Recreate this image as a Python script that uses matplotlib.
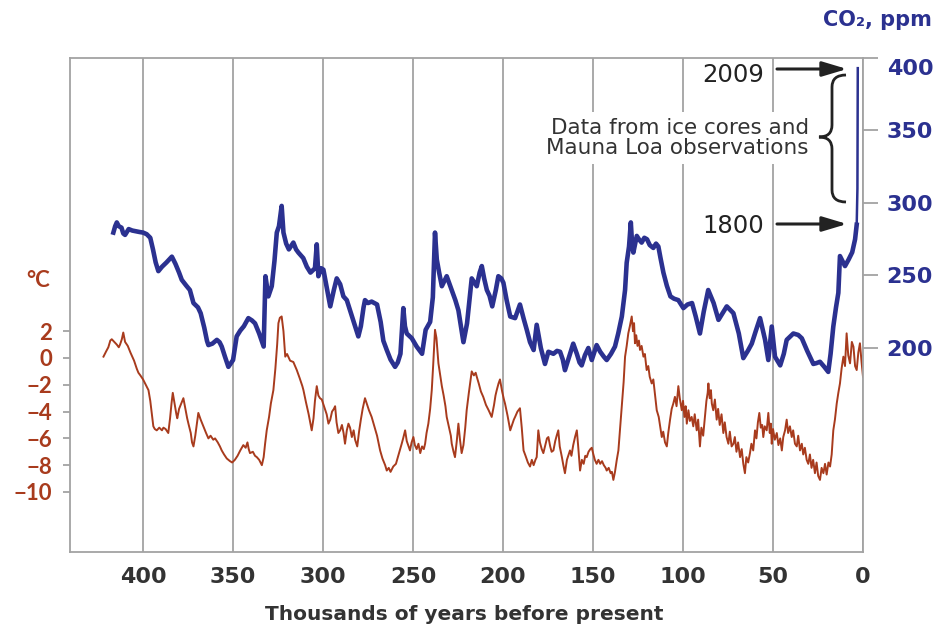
import matplotlib
matplotlib.use("Agg")
import matplotlib.pyplot as plt
from matplotlib.path import Path
from matplotlib.patches import PathPatch, FancyArrowPatch
from matplotlib.transforms import ScaledTranslation

# Vostok-style temperature anomaly (deg C) vs thousands of years before present
temp_kyr = [
    422, 420.5, 419.3, 418.2, 417.4, 416, 414.6, 413.5, 412.8, 411.8, 411, 410, 408.5, 407, 405,
    403.5, 402.6, 401.5, 400, 398.5, 397, 396, 395, 394.3, 393.5, 392.4, 391, 389.5, 388.7, 387.5,
    386, 385, 384.2, 383.5, 382.5, 381.5, 381, 380, 378.5, 377.6, 376.5, 375.5, 374.8, 373.5, 372.8,
    372, 371, 370, 369.3, 368, 366.5, 365, 363.7, 362.5, 361, 360, 358.5, 357.3, 356.3, 355,
    353.5, 351.7, 350.5, 349, 347.5, 346, 344.3, 343, 342, 341.3, 340.6, 339, 337.8, 336.8, 335.5,
    334, 333, 332.2, 331.3, 330, 329, 327.6, 326.5, 325.5, 324.8, 324, 323, 322, 321, 320,
    318.3, 316.5, 314.6, 313, 311.5, 310.9, 309.5, 308, 306.3, 305.3, 304.5, 303.5, 302.6, 301.7, 300.7,
    299.5, 298, 297, 296, 295, 294, 293.3, 292.5, 291.5, 290.5, 289.5, 288.6, 287.8, 286.8, 285.9,
    285, 284, 283, 282.2, 281, 280, 279, 278, 276.7, 275.5, 274.5, 273, 271.5, 270, 268.3,
    267, 265.5, 264.6, 263.5, 262.5, 261, 259.5, 258, 256.3, 255.5, 254.4, 253.5, 252.5, 251.7, 250.8,
    249.8, 249, 248, 247, 246, 245, 244, 243.3, 242.5, 241.5, 240.5, 239.6, 238.8, 237.8, 237,
    235.9, 235, 234, 233, 232, 231.3, 230, 229, 228.5, 227.5, 226.7, 225.7, 224.8, 224, 223,
    222, 221, 220.2, 219, 218, 217.4, 216.2, 215.2, 214.6, 213.5, 212.3, 211, 209.5, 208, 206.3,
    205, 204.2, 203.5, 202.5, 201.7, 200.5, 199.5, 198.9, 197.5, 196, 195, 194, 193.3, 192, 190.6,
    189.6, 188.6, 187.5, 186.2, 185, 184, 183, 182, 181.3, 180.4, 179.5, 178.5, 177.6, 176.5, 175.6,
    174.8, 173.8, 173, 172, 171, 170.2, 169.3, 168.5, 167.3, 166.5, 165.6, 164.5, 163.5, 162.8, 162,
    161, 160, 159, 158.3, 157.2, 156.2, 155.2, 154.3, 153.5, 152.5, 151.5, 150.7, 149.8, 149, 148,
    147, 146, 145, 144, 143, 142.4, 141.3, 140.2, 139.5, 138.7, 137.8, 136.8, 135.9, 135, 134,
    133, 132.2, 131.3, 130.4, 129.5, 128.5, 127.8, 127.2, 126.7, 126, 125.3, 124.5, 123.9, 123, 122,
    121.2, 120.2, 119.3, 118.5, 117.4, 116.5, 115.5, 114.6, 113.5, 112.6, 111.8, 111, 110, 109, 108.2,
    107.2, 106.3, 105.4, 104.5, 103.6, 102.6, 101.8, 100.7, 100, 99.2, 98.5, 97.9, 97, 96.2, 95.2,
    94.3, 93.5, 92.4, 91.6, 90.6, 89.8, 88.8, 87.8, 87, 86.3, 85.9, 85.2, 84.5, 84, 83.2,
    82.3, 81.3, 80.5, 79.6, 78.6, 77.6, 76.8, 75.8, 74.8, 74, 73, 72, 71.2, 70.3, 69.4,
    68.3, 67.4, 66.5, 65.6, 64.8, 63.8, 62.8, 62, 61, 60, 59.2, 58.4, 57.6, 56.8, 56,
    55.4, 54.6, 53.5, 52.6, 51.8, 51.2, 50.7, 50, 49, 47.9, 47, 46, 45.1, 44.3, 43.3,
    42.4, 41.6, 40.6, 39.6, 38.8, 37.8, 36.8, 36, 35, 34, 33.2, 32.3, 31.3, 30.4, 29.5,
    28.6, 27.7, 26.7, 25.8, 24.9, 23.9, 23, 22, 21.1, 20.2, 19.2, 18.3, 17.4, 16.5, 15.6,
    14.6, 13.7, 12.8, 11.9, 10.9, 10, 9.1, 8.2, 7.2, 6.2, 5.3, 4.4, 3.5, 2.6, 1.7,
    0.8, 0,
]
temp_c = [
    0.1, 0.5, 0.8, 1.3, 1.4, 1.2, 1.0, 0.8, 1.0, 1.4, 1.9, 1.2, 0.9, 0.4, -0.2,
    -0.8, -1.1, -1.3, -1.6, -2.0, -2.4, -3.2, -4.3, -5.1, -5.3, -5.4, -5.2, -5.4, -5.2, -5.3,
    -5.6, -4.5, -3.4, -2.6, -3.4, -4.2, -4.5, -3.8, -3.3, -3.0, -3.8, -4.5, -4.9, -5.6, -6.3,
    -6.6, -5.8, -4.8, -4.1, -4.6, -5.1, -5.6, -6.0, -5.8, -6.1, -6.0, -6.3, -6.6, -6.9, -7.2,
    -7.5, -7.7, -7.8, -7.6, -7.3, -6.9, -6.5, -6.7, -6.3, -6.8, -7.1, -7.0, -7.3, -7.4, -7.6,
    -8.0, -7.4, -6.4, -5.4, -4.4, -3.4, -2.4, -0.8, 1.0, 2.6, 3.0, 3.1, 2.0, 0.1, 0.3,
    -0.2, -0.3, -0.9, -1.5, -2.1, -2.4, -3.3, -4.2, -5.4, -4.5, -3.2, -2.1, -2.8, -3.0, -3.1,
    -3.6, -4.2, -4.9, -4.6, -4.0, -3.8, -3.6, -4.8, -5.6, -5.4, -5.0, -5.6, -6.4, -5.4, -4.9,
    -5.2, -5.9, -5.4, -6.1, -6.6, -5.5, -4.6, -3.8, -3.0, -3.5, -3.9, -4.4, -5.1, -5.8, -6.9,
    -7.5, -8.0, -8.4, -8.2, -8.5, -8.1, -7.9, -7.2, -6.4, -6.0, -5.4, -6.2, -6.6, -6.9, -6.3,
    -5.9, -6.5, -6.8, -6.4, -7.1, -6.6, -6.8, -6.4, -5.6, -4.9, -3.8, -2.4, -0.5, 2.1, 1.5,
    -0.4, -1.2, -2.1, -2.8, -3.6, -4.4, -5.2, -5.8, -6.4, -7.0, -7.4, -6.2, -4.9, -6.0, -7.1,
    -6.5, -5.2, -3.9, -2.6, -1.6, -1.0, -1.3, -1.1, -1.4, -1.9, -2.5, -2.9, -3.5, -3.9, -4.4,
    -3.5, -2.8, -2.4, -1.9, -1.6, -2.5, -3.1, -3.4, -4.3, -5.4, -5.0, -4.6, -4.4, -4.0, -3.75,
    -5.2, -6.9, -7.3, -7.8, -8.1, -7.6, -8.0, -7.6, -7.4, -5.4, -6.3, -6.8, -7.1, -6.5, -6.0,
    -5.9, -6.6, -7.0, -6.9, -6.2, -5.8, -5.4, -6.6, -7.4, -8.0, -8.6, -7.6, -7.2, -6.9, -7.3,
    -6.5, -5.9, -5.4, -6.5, -8.4, -7.6, -7.9, -7.3, -7.4, -7.0, -6.8, -6.7, -7.2, -7.6, -7.9,
    -7.6, -7.9, -7.7, -8.0, -8.2, -8.4, -8.2, -8.6, -8.5, -9.1, -8.5, -7.6, -6.9, -5.3, -3.6,
    -1.8, 0.1, 0.9, 1.84, 2.4, 3.1, 2.0, 2.6, 1.1, 1.7, 0.9, 1.3, 0.6, 0.9, 0.1,
    0.3, -0.9, -0.6, -1.4, -1.9, -1.6, -2.8, -3.9, -4.4, -5.2, -5.9, -5.5, -6.3, -6.6, -5.6,
    -4.6, -3.8, -3.4, -2.9, -3.6, -2.1, -3.0, -3.9, -3.2, -4.4, -3.6, -4.9, -3.9, -4.7, -4.4,
    -5.1, -4.2, -5.4, -4.6, -6.6, -5.2, -5.8, -4.4, -3.2, -2.6, -1.9, -3.0, -2.4, -3.4, -3.9,
    -3.1, -4.6, -3.8, -5.0, -4.2, -5.6, -4.8, -5.9, -6.4, -5.5, -6.6, -6.4, -5.9, -7.0, -6.3,
    -7.4, -6.8, -7.9, -8.6, -7.4, -7.8, -7.1, -6.4, -6.9, -5.4, -6.0, -4.8, -4.1, -5.2, -5.0,
    -5.9, -5.1, -5.4, -4.1, -5.6, -4.9, -6.4, -5.3, -6.1, -5.6, -6.5, -6.0, -6.9, -5.9, -5.4,
    -4.6, -5.6, -5.1, -5.9, -5.4, -6.4, -6.6, -5.8, -6.9, -6.4, -7.2, -6.7, -7.6, -7.9, -7.2,
    -8.2, -7.6, -8.6, -7.8, -8.8, -9.1, -8.2, -8.6, -7.9, -8.7, -7.8, -8.1, -7.2, -5.4, -4.6,
    -3.4, -2.6, -1.9, -0.8, 0.1, -0.6, 1.84, 0.2, -0.4, 1.2, 0.84, -0.6, -0.9, 0.4, 1.1,
    -0.3, -1.4,
]

# CO2 from ice cores (ppm)
co2_kyr = [
    416.5, 415.5, 414.6, 413.5, 412, 411, 410, 409, 408, 406, 404, 402, 400, 398, 396,
    394.5, 393, 391.5, 389.5, 387, 384, 382, 380, 378.5, 376, 374, 372, 369.5, 368, 366,
    364.5, 363.7, 361.5, 359, 357.5, 356.3, 354.5, 352.6, 350, 348, 346, 344, 341.5, 339.5, 337.8,
    335.5, 333, 332, 330.4, 328.5, 327, 325.7, 324.5, 323, 322, 320.5, 319, 316.5, 315, 313.7,
    311, 309, 307, 304.5, 303.5, 302.6, 301, 299.8, 298, 296, 294, 292.4, 290.5, 288.7, 286.8,
    284, 281.5, 280.4, 279, 277.5, 276.7, 275, 273, 270, 268, 266.5, 264.6, 262.5, 260, 258.5,
    257, 255.4, 254.5, 253.5, 250.7, 248, 245, 243, 240.5, 239, 237.8, 236.8, 235.5, 234, 231.3,
    228.5, 226.5, 224.8, 223, 222, 220, 218.5, 217.4, 214.6, 213, 211.8, 210.5, 209, 207.5, 206,
    204, 202.6, 201, 199.8, 198, 196, 193.3, 190.6, 188.5, 186.8, 185, 183, 181.3, 179, 176.7,
    174.8, 172, 170, 168.3, 166.8, 165.6, 163.5, 161, 159, 157.5, 156.3, 154.5, 152.6, 150.7, 148,
    146, 144, 142.4, 140, 137.8, 136, 134, 132.2, 131.3, 130, 129, 128.3, 127.6, 125.7, 124.5,
    123, 121.5, 120, 118.5, 116.5, 115, 113.7, 112.5, 110.9, 109, 107, 105, 102.6, 99.8, 97.5,
    95, 93, 90.6, 88.5, 86, 83, 80.3, 78, 75.7, 72, 69, 66.5, 64, 61.8, 59.5,
    57.2, 54.4, 52.6, 50.7, 48.9, 46, 44, 42.4, 38.7, 36, 34, 31, 27.6, 26, 23.9,
    21.5, 19.3, 18, 16.5, 15, 13.7, 12.8, 10, 8, 6, 4.4, 3.5,
]
co2_ppm = [
    279.6, 284, 286.6, 284, 283, 279, 278, 280, 282, 281, 280.5, 280, 279.6, 278.5, 276,
    268, 259, 253, 256, 259, 263, 258, 252, 247, 243, 240, 231, 228, 224, 214,
    205, 202, 203, 205.6, 204, 201, 194, 187, 191.7, 208, 212, 215, 220.6, 219, 217,
    210, 201, 249.5, 235.6, 242.6, 260, 279.6, 284, 298, 279.6, 272, 268, 272.7, 268, 265.8,
    262, 256, 252, 255, 271.5, 249.5, 255, 254, 242, 228.7, 240, 248, 244, 235.6, 233,
    222, 212, 208, 215, 228, 233, 231, 232, 230, 218, 205, 198.6, 192, 187, 190,
    196, 227.5, 215, 210, 206.7, 201, 196, 212.5, 218, 235, 279.6, 261, 252, 242.6, 249.5,
    240, 233, 226, 212, 204, 217, 235, 248, 242.6, 252, 256.5, 248, 240, 236, 228.7,
    240, 249.5, 248, 245, 233, 221.7, 220.6, 230, 220, 212.5, 204, 198.6, 216, 200, 189,
    197.4, 196, 198, 197.4, 192, 184.7, 193, 203, 196, 190, 188, 195, 200, 191.7, 202,
    197.4, 194, 191.7, 196, 201, 210, 221.7, 240, 258.8, 270, 286.6, 272, 265.8, 277.3, 275,
    272.7, 276, 275, 271, 269, 272, 270, 262, 252, 243, 235.6, 234, 233, 227.5, 230,
    231, 222, 210, 225, 240, 231, 219.4, 224, 228.7, 224, 210, 193, 198, 203, 212,
    220.6, 205.6, 191.7, 214.8, 194, 188, 196, 205.6, 210, 209, 206.7, 198, 189, 189.5, 190.5,
    187, 183.5, 196, 214.8, 228, 238, 263.4, 256.5, 261, 266, 275, 285,
]

# 1800 -> 2009 rise (ice cores + Mauna Loa)
modern_kyr = [3.5, 3.1, 2.9]
modern_ppm = [285, 310, 393]

x_ticks = [400, 350, 300, 250, 200, 150, 100, 50, 0]
temp_ticks = [2, 0, -2, -4, -6, -8, -10]
co2_ticks = [200, 250, 300, 350, 400]

BLUE = '#2b3190'
BROWN = '#a83b1d'
GRID = '#a3a3a3'
DARK = '#333333'

plt.rcParams['font.family'] = ['DejaVu Sans']

W, H = 936, 629
fig = plt.figure(figsize=(W / 100, H / 100), dpi=100)


def fp(x, y):
    # pixel position (from top-left) -> figure fraction
    return (x / W, 1 - y / H)


ax = fig.add_axes([70 / W, 1 - 552 / H, 793 / W, 494 / H])
ax2 = ax.twinx()

ax.set_xlim(440.6, 0)
ax.set_ylim(-14.48, 22.39)
ax2.set_ylim(59.3, 400)

for k in x_ticks:
    ax.axvline(k, color=GRID, lw=1.3, zorder=0)

ax.plot(temp_kyr, temp_c, color=BROWN, lw=1.4, zorder=2)
ax2.plot(co2_kyr, co2_ppm, color=BLUE, lw=3.3, zorder=3)
ax2.plot(modern_kyr, modern_ppm, color=BLUE, lw=1.8, zorder=3)

for s in ['left', 'bottom', 'top']:
    ax.spines[s].set_color(GRID)
    ax.spines[s].set_linewidth(1.3)
ax.spines['right'].set_visible(False)
for s in ['left', 'bottom', 'top']:
    ax2.spines[s].set_visible(False)
ax2.spines['right'].set_color(GRID)
ax2.spines['right'].set_linewidth(1.3)

ax.set_xticks(x_ticks, [str(v) for v in x_ticks], fontweight='bold')
ax.tick_params(axis='x', length=0, pad=11, labelsize=16, labelcolor=DARK)

ax.set_yticks(temp_ticks, [str(v).replace('-', '\u2212') for v in temp_ticks],
              fontweight='bold', family=['Lato', 'DejaVu Sans'])
ax.tick_params(axis='y', length=5, width=1.3, color=GRID, pad=8, labelsize=16, labelcolor=BROWN)

ax2.set_yticks(co2_ticks, [str(v) for v in co2_ticks], fontweight='bold')
ax2.tick_params(axis='y', length=11, width=1.3, color=GRID, pad=6, labelsize=16, labelcolor=BLUE)
top_lab = ax2.get_yticklabels()[-1]
top_lab.set_transform(top_lab.get_transform() + ScaledTranslation(0, -0.09, fig.dpi_scale_trans))

fig.text(*fp(464, 615), 'Thousands of years before present', ha='center', va='center',
         fontsize=14.5, fontweight='bold', color=DARK)
fig.text(*fp(38, 281), '\u00b0C', ha='center', va='center', fontsize=16,
         fontweight='bold', color=BROWN, family=['Lato', 'DejaVu Sans'])
fig.text(*fp(932, 20), 'CO\u2082, ppm', ha='right', va='center', fontsize=15,
         fontweight='bold', color=BLUE)

# annotations
fig.text(*fp(809, 138), 'Data from ice cores and\nMauna Loa observations', ha='right',
         va='center', fontsize=15.5, color=DARK, linespacing=0.95,
         bbox=dict(facecolor='white', edgecolor='none', pad=5))
fig.text(*fp(764, 75), '2009', ha='right', va='center', fontsize=17.5, color='#222222')
fig.text(*fp(764, 226), '1800', ha='right', va='center', fontsize=17.5, color='#222222')
arrow = dict(arrowstyle='-|>,head_length=1.0,head_width=0.3', color='#222222', lw=2.2,
             shrinkA=0, shrinkB=0, mutation_scale=15)
for yy in (69, 224):
    fig.add_artist(FancyArrowPatch(fp(777, yy), fp(847, yy), transform=fig.transFigure, **arrow))

# curly brace
xh, xs, xt = 846, 832, 819
yt, ym, yb, r = 75, 137, 202, 12
verts = [(xh, yt), (xs, yt), (xs, yt + r), (xs, ym - r), (xs, ym), (xt, ym),
         (xs, ym), (xs, ym + r), (xs, yb - r), (xs, yb), (xh, yb)]
codes = [Path.MOVETO, Path.CURVE3, Path.CURVE3, Path.LINETO, Path.CURVE3, Path.CURVE3,
         Path.CURVE3, Path.CURVE3, Path.LINETO, Path.CURVE3, Path.CURVE3]
brace = Path([fp(x, y) for x, y in verts], codes)
fig.add_artist(PathPatch(brace, transform=fig.transFigure, fill=False, lw=2.0,
                         edgecolor='#222222'))

fig.savefig('out.png', dpi=100)
